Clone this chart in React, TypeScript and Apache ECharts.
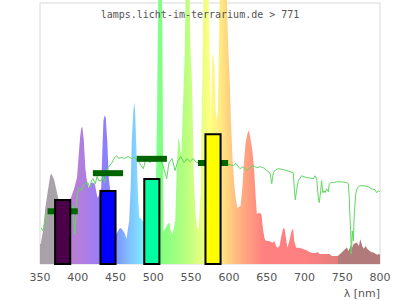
import React, { useEffect, useRef } from "react";
import * as echarts from "echarts";

// Lamp spectrum (wavelength nm, relative intensity)
const specNm = [350, 351, 354, 357, 361, 363.5, 365, 367.5, 369, 372, 375, 378, 381, 384, 387, 390, 391, 395.5, 399, 401, 403, 404.5, 406, 408, 410, 412, 414.5, 418, 422.5, 426, 428, 431, 432.5, 434, 435.5, 437, 439, 441, 443, 446, 449, 451, 455, 457, 460, 462.5, 464.5, 466, 468, 470, 471.5, 473.5, 475, 476, 478, 480, 481.5, 484, 486, 490, 495, 500, 503, 505, 506, 507.5, 509, 511, 512, 513.5, 517, 519, 521.5, 523, 525.5, 529, 531, 533, 534.5, 536, 537, 539.5, 541.5, 543, 545, 547, 549, 551, 552, 553.5, 556, 558, 560, 562.5, 564, 565, 567, 569, 572, 574, 576, 578, 579.5, 581, 582.5, 584, 585.5, 587, 589, 591, 593, 595, 597, 598.5, 600, 601, 603, 605, 607.5, 609.5, 611.5, 613.5, 615.5, 618, 620, 622, 624.5, 626.5, 629, 631, 633.5, 635.5, 637, 640, 643, 645, 647, 649, 653.5, 658, 660, 662.5, 664.5, 667, 669, 671.5, 673.5, 675.5, 677.5, 680, 683, 685, 686.5, 689, 693, 697.5, 702, 706.5, 711, 715.5, 717.5, 720, 726, 733, 736, 744, 749, 754, 756, 758.5, 761, 763, 765, 769.5, 772, 774, 776.5, 778.5, 781, 783, 787.5, 792, 796, 798.5, 800];
const specVal = [7.7, 7.7, 12.7, 21.5, 29.2, 33.8, 34.6, 33.1, 32, 28, 24, 22, 22, 23, 24, 25, 25.4, 29.2, 33.1, 40.8, 48.5, 51.9, 52.7, 47.3, 36.9, 31.9, 29.2, 31.2, 30.8, 25.4, 26.2, 29.2, 43.5, 55, 56.9, 56.2, 47.3, 33.1, 28.1, 20.4, 13.5, 11.5, 13.5, 13.8, 12.7, 11.5, 9.6, 12.7, 16.5, 29.2, 47.3, 58.8, 61.9, 57.7, 40.8, 24.2, 17.7, 17.3, 16.5, 16, 15, 16, 22, 60, 88, 130, 140, 120, 85, 12.3, 14.2, 15.4, 15.8, 12.7, 11.5, 16.5, 36.9, 48.5, 47, 43.5, 40.8, 62.7, 80, 110, 140, 130, 84, 70, 58.8, 33.1, 19.2, 13.8, 13.5, 26.9, 55, 73.5, 120, 125, 115, 91.5, 55, 80, 80, 75.4, 58.8, 55, 58.8, 85, 130, 150, 140, 125, 105, 88.8, 77.3, 71.5, 52.3, 39.6, 29.2, 24.2, 21.5, 21.9, 22.3, 30, 39.6, 46.2, 50, 51.2, 47.3, 43.5, 35.8, 25.4, 19.2, 19.6, 19.2, 13.8, 10, 8.8, 8.8, 8.1, 8.8, 6.9, 6.2, 6.9, 10, 13.5, 13.8, 10, 6.2, 8.8, 12.7, 13.5, 8.8, 6.2, 6.2, 5.8, 5.4, 4.6, 4.2, 4.2, 4.6, 3.8, 3.8, 3.8, 3.1, 3.1, 4.3, 5.7, 6.3, 5, 6.9, 6.2, 7.7, 8.2, 6.9, 9.5, 6.9, 5.8, 6.9, 5.8, 4.7, 4.3, 3.5, 3.8, 3.5];

// Reference (sunlight) curve
const sunNm = [351.7, 354, 356.2, 358.3, 360.6, 363.2, 365.9, 368.5, 375, 380, 385, 391.4, 393.7, 396, 398, 399.4, 401.6, 404.7, 409.2, 413.5, 415.8, 417.9, 420.1, 423.2, 425.5, 428, 431.1, 433.4, 435.6, 437.4, 440, 444.4, 448.9, 451.5, 454.2, 457.6, 462.1, 466.5, 470.8, 475.3, 479.7, 483.7, 486.7, 490.3, 495.6, 499.6, 503.5, 508.8, 512.8, 517.7, 520.7, 524.7, 528.7, 532.6, 536.6, 540.6, 544.6, 548.5, 552.5, 557.4, 561.8, 575, 588.2, 596.2, 600.1, 605.8, 609.4, 614.7, 618.7, 623.6, 628, 632, 636.8, 641.2, 645.5, 650, 654.4, 656.7, 658.8, 662.3, 665.4, 672, 680.9, 685.2, 686.8, 687.9, 689.5, 691.9, 696.4, 703, 711.7, 714, 716.2, 718.3, 719.7, 721.5, 722.8, 724.2, 725.9, 727.2, 729.4, 731.6, 732.9, 734.7, 738.2, 742.7, 749.3, 755.9, 758, 759.4, 760.3, 761.2, 762, 763.3, 764.7, 766, 767.9, 770, 773.5, 777.9, 784.5, 789, 793.4, 795.6, 797.8, 800];
const sunVal = [13.8, 12.7, 15.8, 17.7, 19.2, 19.6, 18.5, 20.4, 21, 20, 22, 19.2, 22.3, 11.5, 20.4, 26.9, 29.2, 28.1, 30.8, 31.2, 29.2, 31.9, 32.7, 30.8, 33.5, 31.9, 31.9, 33.5, 31.2, 35, 36.9, 38.5, 40.8, 41.5, 40.4, 40.8, 40.4, 41.2, 40.4, 40.8, 39.6, 37.7, 36.5, 40.4, 38.8, 40.8, 39.2, 40.4, 37.7, 32.7, 38.8, 40.4, 35.8, 39.6, 41.2, 38.8, 40.4, 39.2, 40.4, 38.8, 39.2, 38.8, 37.7, 38.5, 38.1, 37.7, 38.5, 36.5, 37.3, 35.8, 36.9, 37.7, 36.9, 37.3, 36.9, 35.8, 35, 30.8, 35, 36.2, 36.5, 36.2, 35.4, 35, 28.1, 24.6, 28.1, 31.9, 33.8, 33.1, 32.7, 33.8, 32.7, 25.4, 23.5, 28.1, 31.9, 27.3, 28.1, 27.3, 28.8, 27.7, 30.8, 31.2, 31.2, 31.5, 31.5, 31.2, 30.8, 25.4, 17.7, 12.7, 3.8, 12.7, 8.8, 19.2, 26.9, 29.2, 30, 30, 29.6, 28.8, 28.5, 27.3, 28.1, 27.7];

// Band bars (lamp) and reference markers (sun)
const barStart = [370, 430, 488, 569];
const barEnd = [390, 450, 508, 589];
const barValues = [24.5, 28.0, 32.6, 49.7];
const barColors = ["#4b0049", "#0000ff", "#00ffa0", "#ffff00"];
const refStart = [360, 420, 478, 559];
const refEnd = [400, 460, 518, 599];
const refValues = [20.2, 34.8, 40.3, 38.7];

const xTicks = [350, 400, 450, 500, 550, 600, 650, 700, 750, 800];
const titleText = "lamps.licht-im-terrarium.de > 771";

const gradStops: [number, string][] = [
  [350, "#a9a1a9"], [378, "#aba3ab"], [384, "#b384c8"], [400, "#b67ed8"],
  [420, "#a37ef0"], [438, "#8a80ff"], [450, "#8090ff"], [465, "#80b8ff"],
  [480, "#80dcff"], [487, "#80ecff"], [495, "#80ffb0"], [510, "#80ff80"],
  [530, "#a0ff80"], [550, "#c8ff80"], [565, "#e8ff80"], [575, "#ffff80"],
  [590, "#ffe880"], [600, "#ffd080"], [615, "#ffb080"], [630, "#ff9880"],
  [645, "#ff8080"], [700, "#ff8080"], [744, "#e47c7c"], [745, "#b27a7a"],
  [800, "#b27a7a"],
];

export default function App() {
  const ref = useRef<HTMLDivElement>(null);
  useEffect(() => {
    if (!ref.current) return;
    const chart = echarts.init(ref.current, undefined, { renderer: "svg" });
    const xMin = xTicks[0];
    const xMax = xTicks[xTicks.length - 1];
    const stops = gradStops.map(([nm, c]) => ({ offset: (nm - xMin) / (xMax - xMin), color: c }));
    const refSeries = refStart.map((s, i) => ({
      type: "line",
      data: [[s, refValues[i]], [refEnd[i], refValues[i]]],
      symbol: "none",
      lineStyle: { color: "#006400", width: 6, cap: "butt" },
      silent: true,
      z: 4,
    }));
    chart.setOption({
      animation: false,
      backgroundColor: "#ffffff",
      title: {
        text: titleText,
        left: "center",
        top: 4,
        textStyle: { fontFamily: "DejaVu Sans Mono", fontSize: 10, fontWeight: "normal", color: "#555555" },
      },
      grid: { left: 40, right: 20, top: 3, bottom: 36, show: true, borderColor: "#d8d8d8", borderWidth: 1 },
      xAxis: {
        type: "value",
        min: xMin,
        max: xMax,
        interval: 50,
        axisLine: { show: false },
        axisTick: { show: false },
        splitLine: { show: false },
        axisLabel: { color: "#555555", fontFamily: "DejaVu Sans", fontSize: 11, margin: 8 },
      },
      yAxis: { type: "value", min: 0, max: 100, show: false },
      graphic: [
        {
          type: "text",
          right: 20,
          top: 288,
          style: { text: "λ [nm]", fill: "#555555", font: "11px 'DejaVu Sans'" },
        },
      ],
      series: [
        {
          type: "line",
          data: specNm.map((n, i) => [n, specVal[i]]),
          symbol: "none",
          clip: false,
          lineStyle: { width: 0 },
          areaStyle: { opacity: 1, color: new echarts.graphic.LinearGradient(0, 0, 1, 0, stops) },
          silent: true,
          z: 2,
        },
        {
          type: "line",
          data: sunNm.map((n, i) => [n, sunVal[i]]),
          symbol: "none",
          lineStyle: { color: "#60d860", width: 1 },
          silent: true,
          z: 3,
        },
        ...refSeries,
        {
          type: "custom",
          data: barStart.map((s, i) => [s, barEnd[i], barValues[i]]),
          z: 5,
          silent: true,
          renderItem: (params: any, api: any) => {
            const p0 = api.coord([api.value(0), api.value(2)]);
            const p1 = api.coord([api.value(1), 0]);
            return {
              type: "rect",
              shape: { x: p0[0], y: p0[1], width: p1[0] - p0[0], height: p1[1] - p0[1] },
              style: { fill: barColors[params.dataIndex], stroke: "#000000", lineWidth: 2 },
            };
          },
        },
      ],
    });
    return () => chart.dispose();
  }, []);
  return <div ref={ref} style={{ position: "absolute", left: 0, top: 0, width: 400, height: 300 }} />;
}
